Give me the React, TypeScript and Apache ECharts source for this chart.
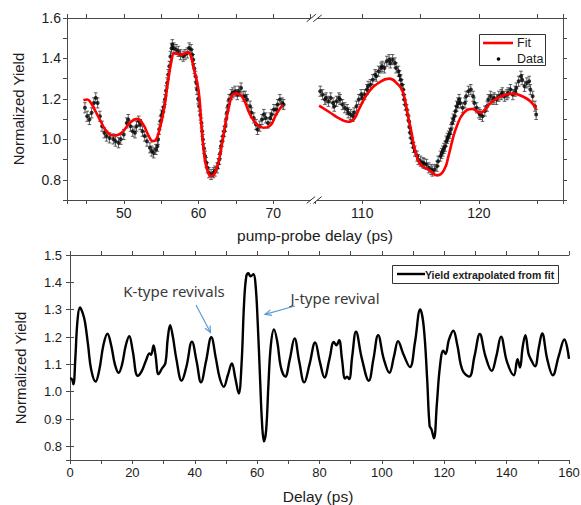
import React, { useEffect, useRef } from 'react';
import * as echarts from 'echarts';

// ---- Upper panel, first delay window (ps): measured yield and fitted curve ----
const earlyDelay = [
  44.8, 45.1, 45.4, 45.7, 46.0, 46.25, 46.5, 46.8, 47.1, 47.4, 47.7, 48.1, 48.6, 48.9, 49.3, 49.6,
  50.0, 50.4, 50.6, 50.9, 51.2, 51.5, 51.7, 52.0, 52.2, 52.5, 52.8, 53.1, 53.5, 53.75, 54.0, 54.3,
  54.5, 54.6, 54.75, 54.9, 55.05, 55.2, 55.35, 55.5, 55.65, 55.8, 55.95, 56.1, 56.25, 56.4, 56.5,
  56.7, 57.0, 57.3, 57.6, 57.95, 58.2, 58.5, 58.75, 59.0, 59.15, 59.3, 59.45, 59.6, 59.7, 59.8,
  59.95, 60.1, 60.25, 60.4, 60.5, 60.6, 60.75, 60.9, 61.05, 61.2, 61.4, 61.7, 62.0, 62.2, 62.5,
  62.65, 62.8, 62.9, 63.0, 63.15, 63.3, 63.45, 63.6, 63.7, 63.8, 63.95, 64.1, 64.4, 64.6, 64.9,
  65.2, 65.4, 65.7, 66.0, 66.25, 66.5, 66.9, 67.1, 67.4, 67.7, 67.9, 68.2, 68.5, 68.75, 69.0,
  69.3, 69.6, 69.8, 70.1, 70.4, 70.6, 70.9, 71.2, 71.4,
];
const earlyYield = [
  1.156, 1.114, 1.098, 1.131, 1.18, 1.205, 1.18, 1.114, 1.065, 1.032, 1.016, 1.007, 1.002, 0.991, 0.983, 1.0,
  1.024, 1.081, 1.098, 1.065, 1.04, 1.032, 1.065, 1.09, 1.073, 1.04, 1.016, 0.991, 0.958, 0.942, 0.933, 0.95,
  0.966, 1.0, 1.05, 1.09, 1.12, 1.135, 1.16, 1.197, 1.24, 1.279, 1.32, 1.361, 1.41, 1.45, 1.468,
  1.452, 1.444, 1.435, 1.419, 1.411, 1.419, 1.427, 1.452, 1.444, 1.42, 1.394, 1.35, 1.312, 1.28, 1.246,
  1.2, 1.164, 1.12, 1.081, 1.04, 0.999, 0.955, 0.917, 0.885, 0.859, 0.835, 0.826, 0.835, 0.843, 0.859,
  0.88, 0.9, 0.93, 0.966, 0.99, 1.016, 1.04, 1.065, 1.1, 1.131, 1.165, 1.197, 1.221, 1.23, 1.238,
  1.221, 1.238, 1.254, 1.213, 1.213, 1.197, 1.164, 1.131, 1.106, 1.073, 1.049, 1.065, 1.098, 1.123, 1.106,
  1.081, 1.106, 1.123, 1.147, 1.147, 1.172, 1.197, 1.18, 1.172,
];
const earlyFitDelay = [
  44.6, 45.1, 45.6, 46.1, 46.9, 47.7, 48.6, 49.7, 50.8, 51.8, 52.6, 53.3, 53.9, 54.3, 54.6, 55.3,
  55.9, 56.4, 56.8, 57.7, 58.6, 59.0, 59.3, 60.0, 60.4, 60.85, 61.3, 61.7, 62.4, 63.1, 64.0, 64.9,
  65.8, 66.9, 67.8, 68.7, 69.6, 70.4, 71.3,
];
const earlyFitYield = [
  1.193, 1.197, 1.18, 1.147, 1.09, 1.04, 1.019, 1.032, 1.081, 1.101, 1.073, 1.02, 0.991, 0.998, 1.024, 1.131,
  1.279, 1.39, 1.427, 1.419, 1.43, 1.41, 1.361, 1.246, 1.065, 0.9, 0.835, 0.818, 0.851, 0.966, 1.147, 1.226,
  1.213, 1.123, 1.075, 1.057, 1.068, 1.123, 1.172,
];

// ---- Upper panel, second delay window (ps) ----
const lateDelay = [
  106.4, 106.6, 106.8, 106.9, 107.1, 107.3, 107.5, 107.6, 107.8, 108.0, 108.1, 108.3, 108.5, 108.7,
  108.8, 109.0, 109.2, 109.3, 109.5, 109.7, 109.9, 110.0, 110.2, 110.4, 110.5, 110.7, 110.9, 111.1,
  111.2, 111.4, 111.6, 111.7, 111.9, 112.1, 112.3, 112.4, 112.6, 112.8, 112.9, 113.1, 113.2, 113.3,
  113.4, 113.5, 113.55, 113.6, 113.7, 113.8, 113.9, 114.0, 114.05, 114.1, 114.2, 114.3, 114.4, 114.5,
  114.7, 114.8, 115.0, 115.2, 115.3, 115.5, 115.7, 115.9, 116.0, 116.2, 116.4, 116.5, 116.7, 116.8,
  116.9, 117.0, 117.1, 117.2, 117.3, 117.4, 117.5, 117.6, 117.7, 117.8, 117.9, 118.0, 118.1, 118.2,
  118.3, 118.4, 118.6, 118.8, 118.9, 119.1, 119.3, 119.5, 119.6, 119.8, 120.0, 120.1, 120.3, 120.5,
  120.7, 120.8, 121.0, 121.2, 121.3, 121.5, 121.7, 121.9, 122.0, 122.2, 122.4, 122.5, 122.7, 122.9,
  123.1, 123.2, 123.4, 123.6, 123.7, 123.9, 124.1, 124.3, 124.4, 124.6, 124.8, 124.9,
];
const lateYield = [
  1.238, 1.221, 1.197, 1.205, 1.188, 1.205, 1.18, 1.164, 1.188, 1.205, 1.197, 1.172, 1.156, 1.147,
  1.131, 1.123, 1.114, 1.131, 1.164, 1.197, 1.221, 1.205, 1.221, 1.246, 1.262, 1.271, 1.295, 1.32,
  1.312, 1.337, 1.353, 1.361, 1.353, 1.386, 1.394, 1.378, 1.394, 1.378, 1.353, 1.337, 1.315, 1.295,
  1.27, 1.246, 1.22, 1.197, 1.17, 1.147, 1.12, 1.09, 1.06, 1.032, 1.005, 0.983, 0.96, 0.942,
  0.917, 0.9, 0.892, 0.884, 0.881, 0.876, 0.859, 0.851, 0.843, 0.851, 0.867, 0.892, 0.917, 0.93,
  0.942, 0.955, 0.966, 0.991, 1.005, 1.016, 1.03, 1.049, 1.081, 1.1, 1.114, 1.14, 1.164, 1.18,
  1.197, 1.18, 1.156, 1.18, 1.213, 1.238, 1.246, 1.213, 1.18, 1.156, 1.131, 1.123, 1.114, 1.14,
  1.164, 1.197, 1.213, 1.197, 1.205, 1.197, 1.213, 1.221, 1.23, 1.213, 1.221, 1.23, 1.246, 1.221,
  1.238, 1.254, 1.287, 1.312, 1.295, 1.262, 1.279, 1.287, 1.246, 1.213, 1.164, 1.123,
];
const lateFitDelay = [
  106.3, 107.2, 108.1, 108.8, 109.3, 109.7, 110.5, 111.4, 112.3, 113.0, 113.5, 113.9, 114.2, 114.5,
  114.9, 115.3, 115.8, 116.4, 117.0, 117.4, 117.7, 118.1, 118.7, 119.4, 120.1, 120.4, 121.0, 121.8,
  122.9, 123.7, 124.4, 124.9,
];
const lateFitYield = [
  1.167, 1.134, 1.101, 1.087, 1.1, 1.147, 1.23, 1.279, 1.3, 1.275, 1.23, 1.12, 1.04, 0.95,
  0.884, 0.862, 0.845, 0.822, 0.848, 0.92, 0.99, 1.065, 1.131, 1.15, 1.132, 1.14, 1.18, 1.21,
  1.226, 1.213, 1.188, 1.15,
];

// half-length of the error bar on every measured point
const YIELD_ERROR = 0.025;

// ---- Lower panel: yield extrapolated from the fit over 0-160 ps ----
const modelDelay = [
  0, 0.6, 1.1, 1.7, 2.4, 3.2, 4.0, 4.8, 5.8, 6.8, 8.2, 9.4, 10.7, 12.0, 13.2, 14.4, 15.6, 16.7, 17.9,
  19.0, 20.1, 21.7, 23.0, 24.4, 25.5, 26.0, 26.8, 27.4, 28.4, 29.5, 30.6, 31.3, 32.1, 33.0, 34.1,
  35.8, 37.3, 39.1, 40.6, 42.0, 43.6, 45.3, 46.8, 48.0, 49.3, 50.6, 51.9, 53.0, 54.1, 55.0, 55.8,
  56.5, 57.2, 57.9, 58.8, 59.5, 60.2, 60.9, 61.6, 62.2, 62.9, 63.6, 64.4, 65.4, 66.5, 67.6, 69.0,
  70.5, 72.0, 73.5, 75.1, 76.8, 78.6, 80.1, 81.6, 83.2, 84.6, 85.4, 86.3, 87.2, 88.2, 88.8, 89.5,
  90.5, 91.7, 93.6, 95.8, 97.3, 98.8, 100.6, 102.4, 103.9, 105.2, 106.8, 109.0, 110.6, 112.3, 113.4,
  114.5, 115.3, 115.9, 116.7, 117.6, 118.6, 119.7, 120.4, 121.5, 122.9, 124.2, 125.8, 128.0, 129.7,
  131.4, 133.2, 135.2, 136.7, 138.2, 140.1, 142.3, 143.5, 144.3, 145.1, 146.0, 147.0, 147.7, 149.1,
  150.3, 151.4, 153.0, 154.8, 156.7, 158.5, 160.0,
];
const modelYield = [
  1.048, 1.046, 1.027, 1.12, 1.26, 1.308, 1.29, 1.255, 1.17, 1.08, 1.037, 1.08, 1.17, 1.212, 1.17, 1.1, 1.069, 1.1, 1.17,
  1.203, 1.15, 1.058, 1.075, 1.115, 1.14, 1.135, 1.169, 1.135, 1.064, 1.085, 1.105, 1.19, 1.243, 1.2, 1.12,
  1.04, 1.09, 1.183, 1.11, 1.034, 1.11, 1.199, 1.12, 1.05, 1.018, 1.06, 1.103, 1.05, 0.993, 1.1, 1.32,
  1.42, 1.433, 1.422, 1.43, 1.39, 1.25, 1.06, 0.88, 0.818, 0.86, 1.02, 1.17, 1.228, 1.18, 1.09, 1.055,
  1.12, 1.195, 1.11, 1.034, 1.1, 1.18, 1.11, 1.052, 1.12, 1.182, 1.17, 1.188, 1.12, 1.048, 1.055, 1.046,
  1.13, 1.219, 1.12, 1.04, 1.12, 1.207, 1.12, 1.069, 1.13, 1.185, 1.14, 1.09, 1.18, 1.301, 1.24,
  1.05, 0.875, 0.862, 0.829, 0.95, 1.09, 1.15, 1.138, 1.19, 1.223, 1.17, 1.08, 1.055, 1.13,
  1.211, 1.13, 1.076, 1.13, 1.201, 1.11, 1.06, 1.119, 1.088, 1.16, 1.207, 1.14, 1.12, 1.093,
  1.16, 1.213, 1.12, 1.06, 1.13, 1.191, 1.12,
];

const AXIS_COLOR = '#4a4a4a';
const TEXT_COLOR = '#1c1c1c';
const FONT = '"Liberation Sans", Arial, sans-serif';

const pairs = (xs: number[], ys: number[]) => xs.map((x, i) => [x, ys[i]]);
const withError = (xs: number[], ys: number[]) => xs.map((x, i) => [x, ys[i], YIELD_ERROR]);

const isMultiple = (v: number, step: number) => Math.abs(v / step - Math.round(v / step)) < 1e-6;

const tickStyle = { show: true, length: 4, inside: false, lineStyle: { color: AXIS_COLOR, width: 1 } };
const lineStyle = { show: true, lineStyle: { color: AXIS_COLOR, width: 1 } };

const errorBarRender = (params: any, api: any) => {
  const x = api.value(0);
  const y = api.value(1);
  const e = api.value(2);
  const hi = api.coord([x, y + e]);
  const lo = api.coord([x, y - e]);
  const cap = 1.8;
  const style = { stroke: '#3a3a3a', lineWidth: 0.8 };
  return {
    type: 'group',
    children: [
      { type: 'line', shape: { x1: hi[0], y1: hi[1], x2: lo[0], y2: lo[1] }, style },
      { type: 'line', shape: { x1: hi[0] - cap, y1: hi[1], x2: hi[0] + cap, y2: hi[1] }, style },
      { type: 'line', shape: { x1: lo[0] - cap, y1: lo[1], x2: lo[0] + cap, y2: lo[1] }, style },
    ],
  };
};

const arrow = (x1: number, y1: number, x2: number, y2: number) => {
  const th = Math.atan2(y2 - y1, x2 - x1);
  const len = 7;
  const a = 0.42;
  const style = { stroke: '#5b9bd5', lineWidth: 1.2, fill: 'none' };
  return [
    { type: 'line', z: 50, shape: { x1, y1, x2, y2 }, style },
    {
      type: 'polyline',
      z: 50,
      shape: {
        points: [
          [x2 - len * Math.cos(th - a), y2 - len * Math.sin(th - a)],
          [x2, y2],
          [x2 - len * Math.cos(th + a), y2 - len * Math.sin(th + a)],
        ],
      },
      style,
    },
  ];
};

// "//" axis-break marks on the upper panel frame
const breakMark = (cx: number, cy: number) => {
  const dx = 4.2;
  const dy = 3.4;
  const off = 3.3;
  const s1 = [[cx - off - dx, cy + dy], [cx - off + dx, cy - dy]];
  const s2 = [[cx + off - dx, cy + dy], [cx + off + dx, cy - dy]];
  const st = { stroke: '#333', lineWidth: 1 };
  return [
    { type: 'polygon', z: 60, shape: { points: [s1[0], s1[1], s2[1], s2[0]] }, style: { fill: '#fff' } },
    { type: 'line', z: 61, shape: { x1: s1[0][0], y1: s1[0][1], x2: s1[1][0], y2: s1[1][1] }, style: st },
    { type: 'line', z: 61, shape: { x1: s2[0][0], y1: s2[0][1], x2: s2[1][0], y2: s2[1][1] }, style: st },
  ];
};

export default function App() {
  const ref = useRef<HTMLDivElement>(null);

  useEffect(() => {
    if (!ref.current) return;
    const chart = echarts.init(ref.current, undefined, { renderer: 'svg' });

    const topY = { min: 0.7, max: 1.6, interval: 0.1 };
    const earlyX = { min: 42.4, max: 75.6, minInterval: 5, maxInterval: 5 };
    const lateX = { min: 105.95, max: 127.2, minInterval: 5, maxInterval: 5 };
    const lowX = { min: 0, max: 160, interval: 10 };
    const lowY = { min: 0.75, max: 1.5, minInterval: 0.1, maxInterval: 0.1 };

    const label = (fmt: (v: number) => string, size: number, margin: number) => ({
      show: true,
      formatter: fmt,
      color: TEXT_COLOR,
      fontFamily: FONT,
      fontSize: size,
      margin,
      showMinLabel: true,
      showMaxLabel: true,
      hideOverlap: false,
    });
    const noLabel = { show: false };
    const base = { type: 'value', scale: true, splitLine: { show: false }, axisLine: lineStyle, axisTick: tickStyle };

    const fmtTen = (v: number) => (isMultiple(v, 10) ? String(Math.round(v)) : '');
    const fmtTwenty = (v: number) => (isMultiple(v, 20) ? String(Math.round(v)) : '');
    const fmtTopY = (v: number) => (isMultiple(v, 0.2) ? v.toFixed(1) : '');
    const fmtLowY = (v: number) => (isMultiple(v, 0.1) ? v.toFixed(1) : '');

    chart.setOption({
      animation: false,
      backgroundColor: '#ffffff',
      grid: [
        { left: 67, top: 18, width: 248, height: 182, outerBoundsMode: 'none' },
        { left: 315, top: 18, width: 248, height: 182, outerBoundsMode: 'none' },
        { left: 70, top: 255, width: 499, height: 205, outerBoundsMode: 'none' },
      ],
      xAxis: [
        { ...base, ...earlyX, gridIndex: 0, position: 'bottom', axisLabel: label(fmtTen, 14, 6) },
        { ...base, ...lateX, gridIndex: 1, position: 'bottom', axisLabel: label(fmtTen, 14, 6) },
        { ...base, ...earlyX, gridIndex: 0, position: 'top', axisLabel: noLabel },
        { ...base, ...lateX, gridIndex: 1, position: 'top', axisLabel: noLabel },
        { ...base, ...lowX, gridIndex: 2, position: 'bottom', axisLabel: label(fmtTwenty, 13, 6) },
        { ...base, ...lowX, gridIndex: 2, position: 'top', axisLabel: noLabel },
      ],
      yAxis: [
        { ...base, ...topY, gridIndex: 0, position: 'left', axisLabel: label(fmtTopY, 14, 6) },
        { ...base, ...topY, gridIndex: 1, position: 'right', axisLabel: noLabel },
        { ...base, ...lowY, gridIndex: 2, position: 'left', axisLabel: label(fmtLowY, 13, 8) },
        { ...base, ...lowY, gridIndex: 2, position: 'right', axisLabel: noLabel },
      ],
      series: [
        {
          type: 'custom',
          xAxisIndex: 0,
          yAxisIndex: 0,
          clip: true,
          renderItem: errorBarRender,
          encode: { x: 0, y: 1 },
          data: withError(earlyDelay, earlyYield),
          z: 2,
        },
        {
          type: 'scatter',
          xAxisIndex: 0,
          yAxisIndex: 0,
          symbol: 'circle',
          symbolSize: 4,
          itemStyle: { color: '#000' },
          data: pairs(earlyDelay, earlyYield),
          z: 3,
        },
        {
          type: 'line',
          name: 'Fit',
          xAxisIndex: 0,
          yAxisIndex: 0,
          showSymbol: false,
          smooth: 0.5,
          lineStyle: { color: '#ff0000', width: 2.6 },
          data: pairs(earlyFitDelay, earlyFitYield),
          z: 4,
        },
        {
          type: 'custom',
          xAxisIndex: 1,
          yAxisIndex: 1,
          clip: true,
          renderItem: errorBarRender,
          encode: { x: 0, y: 1 },
          data: withError(lateDelay, lateYield),
          z: 2,
        },
        {
          type: 'scatter',
          xAxisIndex: 1,
          yAxisIndex: 1,
          symbol: 'circle',
          symbolSize: 4,
          itemStyle: { color: '#000' },
          data: pairs(lateDelay, lateYield),
          z: 3,
        },
        {
          type: 'line',
          name: 'Fit',
          xAxisIndex: 1,
          yAxisIndex: 1,
          showSymbol: false,
          smooth: 0.5,
          lineStyle: { color: '#ff0000', width: 2.6 },
          data: pairs(lateFitDelay, lateFitYield),
          z: 4,
        },
        {
          type: 'line',
          name: 'Yield extrapolated from fit',
          xAxisIndex: 4,
          yAxisIndex: 2,
          showSymbol: false,
          smooth: 0.4,
          lineStyle: { color: '#000', width: 2.4 },
          data: pairs(modelDelay, modelYield),
        },
      ],
      graphic: [
        // axis titles
        {
          type: 'text', x: 18, y: 109, rotation: Math.PI / 2,
          style: { text: 'Normalized Yield', font: `15px ${FONT}`, fill: TEXT_COLOR, textAlign: 'center', textVerticalAlign: 'middle' },
        },
        {
          type: 'text', x: 315, y: 235,
          style: { text: 'pump-probe delay (ps)', font: `15.5px ${FONT}`, fill: TEXT_COLOR, textAlign: 'center', textVerticalAlign: 'middle' },
        },
        {
          type: 'text', x: 20, y: 368, rotation: Math.PI / 2,
          style: { text: 'Normalized Yield', font: `15px ${FONT}`, fill: TEXT_COLOR, textAlign: 'center', textVerticalAlign: 'middle' },
        },
        {
          type: 'text', x: 318, y: 496,
          style: { text: 'Delay (ps)', font: `15.5px ${FONT}`, fill: TEXT_COLOR, textAlign: 'center', textVerticalAlign: 'middle' },
        },
        // upper legend
        { type: 'rect', z: 40, shape: { x: 479.5, y: 34.5, width: 66, height: 31 }, style: { fill: '#fff', stroke: '#333', lineWidth: 1 } },
        { type: 'line', z: 41, shape: { x1: 483, y1: 43, x2: 513, y2: 43 }, style: { stroke: '#ff0000', lineWidth: 2.6 } },
        { type: 'text', z: 41, x: 517, y: 43, style: { text: 'Fit', font: `12.5px ${FONT}`, fill: TEXT_COLOR, textVerticalAlign: 'middle' } },
        { type: 'circle', z: 41, shape: { cx: 498.5, cy: 59, r: 1.8 }, style: { fill: '#000' } },
        { type: 'text', z: 41, x: 517, y: 59, style: { text: 'Data', font: `12.5px ${FONT}`, fill: TEXT_COLOR, textVerticalAlign: 'middle' } },
        // lower legend
        { type: 'rect', z: 40, shape: { x: 392.5, y: 265.5, width: 166, height: 18 }, style: { fill: '#fff', stroke: '#333', lineWidth: 1 } },
        { type: 'line', z: 41, shape: { x1: 397, y1: 274, x2: 425, y2: 274 }, style: { stroke: '#000', lineWidth: 2.4 } },
        {
          type: 'text', z: 41, x: 425, y: 274.5,
          style: { text: 'Yield extrapolated from fit', font: `bold 10.5px ${FONT}`, fill: TEXT_COLOR, textVerticalAlign: 'middle' },
        },
        // annotations
        {
          type: 'text', z: 50, x: 174, y: 291,
          style: { text: 'K-type revivals', font: '15px "Noto Sans", sans-serif', fill: '#3a3a3a', textAlign: 'center', textVerticalAlign: 'middle' },
        },
        {
          type: 'text', z: 50, x: 335, y: 298,
          style: { text: 'J-type revival', font: '15px "Noto Sans", sans-serif', fill: '#3a3a3a', textAlign: 'center', textVerticalAlign: 'middle' },
        },
        ...arrow(196, 305, 210.5, 332.5),
        ...arrow(295, 306, 265, 314.3),
        ...breakMark(314.2, 18.3),
        ...breakMark(314.2, 200),
      ],
    });

    return () => chart.dispose();
  }, []);

  return <div ref={ref} style={{ position: 'absolute', left: 0, top: 0, width: 581, height: 505 }} />;
}
